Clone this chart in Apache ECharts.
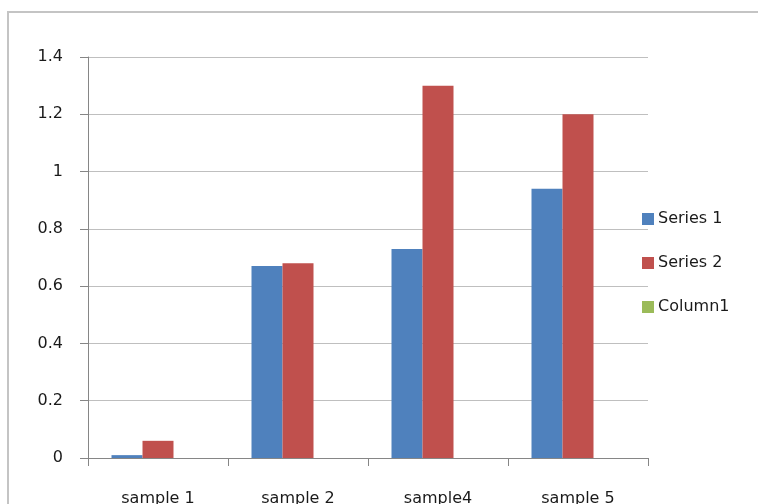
<!DOCTYPE html>
<html><head><meta charset="utf-8">
<script src="https://cdn.jsdelivr.net/npm/echarts@6/dist/echarts.min.js"></script>
<style>html,body{margin:0;padding:0;background:#fff}#c{width:758px;height:504px}</style>
</head><body><div id="c"></div>
<script>
var categories = ['sample 1', 'sample 2', 'sample4', 'sample 5'];
var series1 = [0.01, 0.67, 0.73, 0.94];
var series2 = [0.06, 0.68, 1.3, 1.2];
var column1 = [null, null, null, null];
var seriesNames = ['Series 1', 'Series 2', 'Column1'];
var colors = ['#4F81BD', '#C0504D', '#9BBB59'];

var chart = echarts.init(document.getElementById('c'), null, {renderer: 'canvas'});
var font = "'DejaVu Sans', sans-serif";
chart.setOption({
  animation: false,
  backgroundColor: '#fff',
  graphic: [{type: 'rect', shape: {x: 8, y: 12, width: 820, height: 600}, style: {fill: 'none', stroke: '#c4c4c4', lineWidth: 2}}],
  grid: {left: 88, top: 57, right: 110, bottom: 46, outerBoundsMode: 'none', containLabel: false},
  legend: {
    orient: 'vertical', left: 637, top: 206, itemGap: 28, itemWidth: 12, itemHeight: 12,
    icon: 'rect', data: seriesNames,
    textStyle: {fontFamily: font, fontSize: 16, color: '#1a1a1a', padding: [0, 0, 0, -1]}
  },
  xAxis: {
    type: 'category', data: categories,
    axisLine: {lineStyle: {color: '#868686', width: 1}},
    axisTick: {show: true, length: 8, lineStyle: {color: '#868686'}},
    axisLabel: {margin: 33, fontFamily: font, fontSize: 16, color: '#1a1a1a'}
  },
  yAxis: {
    type: 'value', min: 0, max: 1.4, interval: 0.2,
    axisLine: {show: true, lineStyle: {color: '#868686', width: 1}},
    axisTick: {show: true, length: 8, lineStyle: {color: '#868686'}},
    axisLabel: {margin: 25, fontFamily: font, fontSize: 16, color: '#1a1a1a',
      formatter: function (v) { return String(Math.round(v * 10) / 10); }},
    splitLine: {lineStyle: {color: '#bfbfbf', width: 1}}
  },
  series: [
    {name: seriesNames[0], type: 'bar', data: series1, barWidth: 31, barGap: '0%', itemStyle: {color: colors[0]}},
    {name: seriesNames[1], type: 'bar', data: series2, barWidth: 31, barGap: '0%', itemStyle: {color: colors[1]}},
    {name: seriesNames[2], type: 'bar', data: column1, barWidth: 31, barGap: '0%', itemStyle: {color: colors[2]}}
  ]
});
</script></body></html>
